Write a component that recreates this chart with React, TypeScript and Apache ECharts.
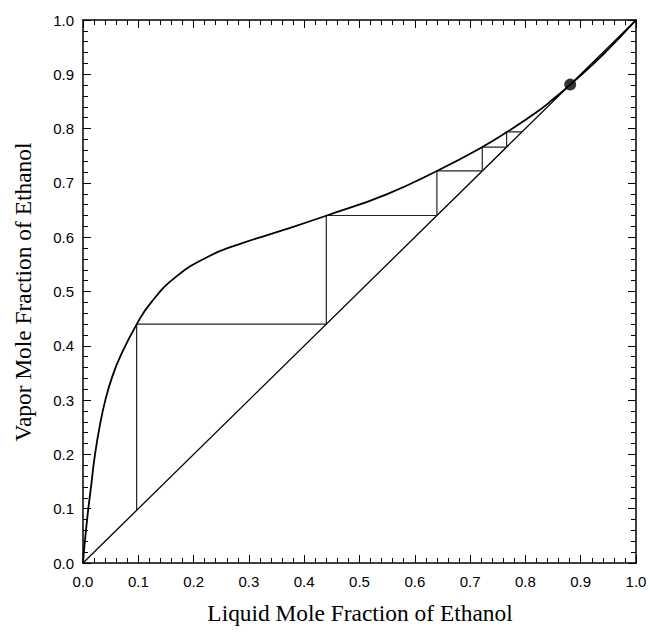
import React, { useEffect, useRef } from "react";
import * as echarts from "echarts";

// Equilibrium (x-y) curve for ethanol-water
const eqX = [0, 0.0036, 0.0096, 0.0145, 0.0217, 0.0317, 0.0404, 0.0519, 0.0673, 0.0973, 0.124, 0.168, 0.226, 0.279, 0.356, 0.441, 0.549, 0.64, 0.722, 0.767, 0.82, 0.85, 0.881, 0.94, 1.0];
const eqY = [0, 0.042, 0.1, 0.14, 0.2, 0.26, 0.3, 0.34, 0.38, 0.44, 0.481, 0.527, 0.564, 0.586, 0.611, 0.64, 0.679, 0.722, 0.766, 0.794, 0.83, 0.854, 0.881, 0.936, 1.0];

// 45-degree line
const diagX = [0, 1];
const diagY = [0, 1];

// Stage stepping (McCabe-Thiele staircase)
const stepX = [0.097, 0.097, 0.44, 0.44, 0.64, 0.64, 0.722, 0.722, 0.766, 0.766, 0.794];
const stepY = [0.097, 0.44, 0.44, 0.64, 0.64, 0.722, 0.722, 0.766, 0.766, 0.794, 0.794];

// Azeotrope point
const azeoX = [0.881];
const azeoY = [0.881];

const xTitle = "Liquid Mole Fraction of Ethanol";
const yTitle = "Vapor Mole Fraction of Ethanol";

const zip = (a: number[], b: number[]) => a.map((v, i) => [v, b[i]]);

export default function App() {
  const ref = useRef<HTMLDivElement>(null);
  useEffect(() => {
    if (!ref.current) return;
    const chart = echarts.init(ref.current, null, { renderer: "svg" });
    const labelFont = {
      fontFamily: "'Liberation Sans', Arial, sans-serif",
      fontSize: 15,
      color: "#000",
    };
    const baseAxis = (extra: any) => ({
      type: "value",
      min: 0,
      max: 1,
      interval: 0.1,
      axisLine: { show: true, onZero: false, lineStyle: { color: "#000", width: 1.5 } },
      axisTick: { show: true, inside: true, length: 8, lineStyle: { color: "#000", width: 1 } },
      minorTick: { show: true, splitNumber: 5, length: 5, lineStyle: { color: "#000", width: 1 } },
      splitLine: { show: false },
      minorSplitLine: { show: false },
      ...extra,
    });
    chart.setOption({
      animation: false,
      backgroundColor: "#fff",
      grid: { left: 83, right: 14, top: 20, bottom: 69 },
      xAxis: [
        baseAxis({
          position: "bottom",
          axisLabel: { ...labelFont, margin: 11, formatter: (v: number) => v.toFixed(1) },
        }),
        baseAxis({ position: "top", axisLabel: { show: false } }),
      ],
      yAxis: [
        baseAxis({
          position: "left",
          axisLabel: { ...labelFont, margin: 9, formatter: (v: number) => v.toFixed(1) },
        }),
        baseAxis({ position: "right", axisLabel: { show: false } }),
      ],
      graphic: [
        {
          type: "text",
          x: 360,
          y: 613,
          style: {
            text: xTitle,
            fill: "#000",
            font: "23.4px 'Liberation Serif', 'Times New Roman', serif",
            textAlign: "center",
            textVerticalAlign: "middle",
          },
        },
        {
          type: "text",
          x: 23,
          y: 292,
          rotation: Math.PI / 2,
          style: {
            text: yTitle,
            fill: "#000",
            font: "23.4px 'Liberation Serif', 'Times New Roman', serif",
            textAlign: "center",
            textVerticalAlign: "middle",
          },
        },
      ],
      series: [
        {
          type: "line",
          data: zip(diagX, diagY),
          symbol: "none",
          lineStyle: { color: "#000", width: 1.3 },
          silent: true,
        },
        {
          type: "line",
          data: zip(stepX, stepY),
          symbol: "none",
          lineStyle: { color: "#222", width: 1.2 },
          silent: true,
        },
        {
          type: "line",
          data: zip(eqX, eqY),
          symbol: "none",
          smooth: 0.5,
          lineStyle: { color: "#000", width: 1.8 },
          silent: true,
        },
        {
          type: "scatter",
          data: zip(azeoX, azeoY),
          symbol: "circle",
          symbolSize: 12,
          itemStyle: { color: "#000" },
          silent: true,
          z: 5,
        },
      ],
    });
    return () => chart.dispose();
  }, []);
  return (
    <div
      ref={ref}
      style={{ position: "fixed", left: 0, top: 0, width: 650, height: 632, background: "#fff" }}
    />
  );
}
